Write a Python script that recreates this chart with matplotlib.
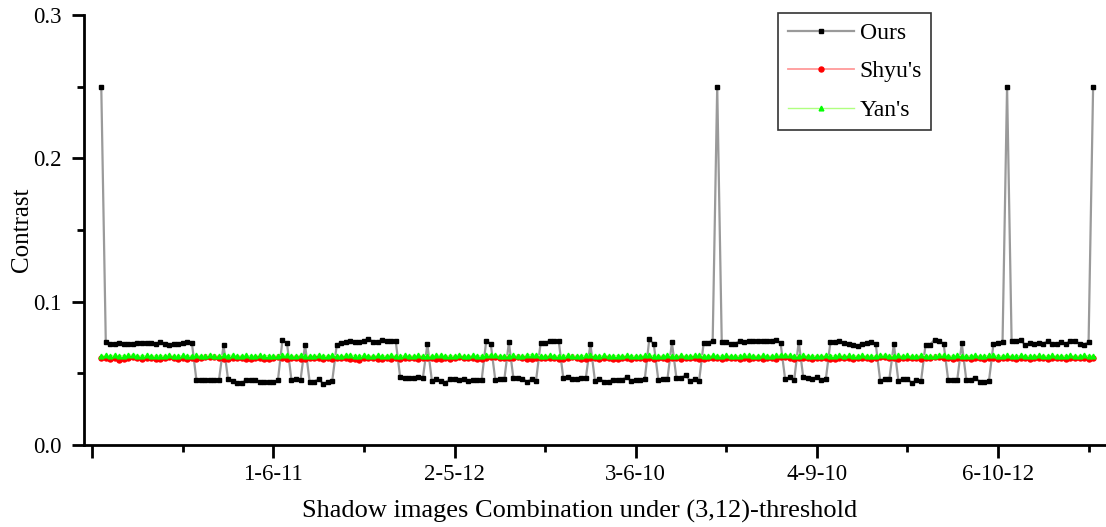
import numpy as np
import matplotlib
matplotlib.use("Agg")
import matplotlib.pyplot as plt
from matplotlib.ticker import FixedLocator

# ---------------- data ----------------
# Contrast of the "Ours" scheme for each of the 220 (3,12) shadow combinations
ours = [
    0.250,
    0.0716, 0.0702, 0.0702, 0.0714, 0.0705, 0.0705, 0.0702, 0.0712, 0.0712, 0.0712,
    0.0709, 0.0705, 0.0716, 0.0707, 0.0695, 0.0702, 0.0707, 0.0709, 0.0716, 0.0714,
    0.0456, 0.0456, 0.0456, 0.0456, 0.0456, 0.0456,
    0.0696,
    0.0458, 0.0444, 0.0430, 0.0435, 0.0451, 0.0454,
    0.0454, 0.0442, 0.0437, 0.0437, 0.0440, 0.0451,
    0.0730, 0.0712,
    0.0451, 0.0463, 0.0454,
    0.0700,
    0.0442, 0.0442, 0.0461, 0.0426, 0.0440, 0.0447,
    0.0700, 0.0714, 0.0719, 0.0728, 0.0719, 0.0719, 0.0728, 0.0742, 0.0719, 0.0719,
    0.0733, 0.0728, 0.0726, 0.0728,
    0.0472, 0.0468, 0.0465, 0.0465, 0.0477, 0.0465,
    0.0702,
    0.0449, 0.0458, 0.0447, 0.0435, 0.0461, 0.0458, 0.0454, 0.0463, 0.0449, 0.0451,
    0.0454, 0.0456,
    0.0728, 0.0705,
    0.0454, 0.0463, 0.0458,
    0.0716,
    0.0465, 0.0468, 0.0463, 0.0442, 0.0458, 0.0449,
    0.0709, 0.0709, 0.0728, 0.0723, 0.0728,
    0.0470, 0.0477, 0.0458, 0.0461, 0.0468, 0.0470,
    0.0705,
    0.0449, 0.0463, 0.0442, 0.0442, 0.0454, 0.0454,
    0.0454, 0.0477, 0.0444, 0.0454, 0.0454, 0.0458,
    0.0737, 0.0702,
    0.0454, 0.0458, 0.0458,
    0.0716,
    0.0465, 0.0465, 0.0489, 0.0447, 0.0458, 0.0447,
    0.0709, 0.0714, 0.0728,
    0.250,
    0.0721, 0.0716, 0.0707, 0.0705, 0.0728, 0.0721, 0.0723, 0.0726, 0.0728, 0.0728,
    0.0726, 0.0726, 0.0733, 0.0709,
    0.0458, 0.0472, 0.0454,
    0.0721,
    0.0472, 0.0468, 0.0463, 0.0472, 0.0454, 0.0463,
    0.0719, 0.0719, 0.0728, 0.0709, 0.0705, 0.0695, 0.0693, 0.0705, 0.0709, 0.0719,
    0.0705,
    0.0447, 0.0461, 0.0458,
    0.0705,
    0.0449, 0.0461, 0.0463, 0.0430, 0.0454, 0.0444,
    0.0700, 0.0700, 0.0735,
    0.0728, 0.0705,
    0.0454, 0.0454, 0.0454,
    0.0709,
    0.0454, 0.0454, 0.0470, 0.0440, 0.0442, 0.0447,
    0.0705, 0.0714, 0.0719,
    0.250,
    0.0728, 0.0728, 0.0733, 0.0695, 0.0709, 0.0705, 0.0709, 0.0705, 0.0728, 0.0705,
    0.0705, 0.0719, 0.0705, 0.0728, 0.0728, 0.0705, 0.0700, 0.0719,
    0.250,
]

# Shyu's and Yan's contrast (units of 1e-4)
shyu_e4 = [
    608, 604, 602, 606, 596, 597, 608, 616, 610, 602, 606, 608, 603, 600, 604, 611, 605, 602, 608, 602,
    606, 600, 608, 612, 616, 614, 608, 602, 601, 608, 606, 610, 603, 600, 604, 608, 600, 602, 607, 611,
    606, 602, 608, 604, 600, 599, 606, 609, 604, 600, 608, 603, 605, 608, 606, 602, 601, 596, 604, 608,
    604, 600, 602, 606, 601, 608, 598, 604, 610, 606, 602, 608, 604, 608, 600, 603, 607, 602, 608, 612,
    610, 605, 608, 602, 600, 606, 614, 616, 608, 606, 604, 608, 612, 608, 602, 600, 606, 604, 605, 607,
    608, 603, 600, 606, 611, 606, 602, 599, 605, 608, 600, 604, 606, 602, 603, 608, 604, 600, 606, 608,
    602, 606, 600, 608, 604, 602, 605, 608, 601, 604, 608, 606, 602, 600, 606, 608, 604, 602, 608, 606,
    604, 603, 606, 602, 608, 605, 600, 604, 608, 602, 614, 612, 606, 602, 608, 604, 606, 602, 610, 606,
    608, 602, 600, 606, 608, 604, 602, 608, 610, 604, 602, 608, 614, 616, 608, 604, 602, 606, 608, 604,
    608, 602, 606, 610, 612, 614, 608, 604, 600, 606, 610, 605, 602, 608, 606, 600, 604, 608, 602, 606,
    608, 604, 602, 606, 608, 600, 606, 604, 608, 602, 606, 608, 604, 600, 606, 608, 604, 606, 602, 604,
]
yan_e4 = [
    623, 625, 621, 627, 621, 623, 625, 629, 623, 621, 625, 623, 621, 624, 621, 625, 623, 619, 625, 623,
    621, 625, 623, 621, 627, 623, 622, 625, 623, 627, 621, 623, 625, 621, 623, 626, 622, 624, 621, 623,
    625, 627, 621, 623, 625, 621, 624, 623, 627, 623, 621, 625, 623, 621, 627, 629, 623, 621, 625, 623,
    622, 625, 621, 623, 627, 623, 621, 625, 623, 621, 625, 624, 623, 621, 625, 627, 623, 621, 623, 625,
    623, 621, 625, 623, 621, 627, 629, 625, 623, 621, 623, 625, 621, 623, 627, 631, 625, 621, 623, 625,
    623, 621, 624, 625, 623, 621, 623, 625, 627, 623, 621, 625, 623, 621, 624, 623, 625, 623, 621, 623,
    625, 627, 623, 621, 623, 625, 621, 623, 625, 623, 621, 627, 625, 623, 621, 625, 623, 621, 625, 623,
    621, 623, 625, 627, 623, 621, 625, 623, 621, 625, 627, 631, 625, 623, 621, 625, 623, 621, 624, 623,
    625, 623, 621, 627, 623, 625, 621, 623, 625, 623, 621, 623, 625, 627, 623, 621, 625, 623, 625, 621,
    623, 625, 623, 621, 623, 625, 627, 623, 621, 625, 623, 621, 623, 625, 621, 623, 625, 627, 623, 621,
    625, 623, 621, 625, 623, 621, 623, 625, 623, 621, 625, 623, 621, 623, 625, 623, 621, 625, 623, 623,
]

tick_major_pos = [-2, 38, 78, 118, 158, 198]
tick_major_labels = ["", "1-6-11", "2-5-12", "3-6-10", "4-9-10", "6-10-12"]
tick_minor_pos = [18, 58, 98, 138, 178, 218]
ytick_major = [0.0, 0.1, 0.2, 0.3]
ytick_labels = ["0.0", "0.1", "0.2", "0.3"]
ytick_minor = [0.05, 0.15, 0.25]

# ---------------- plot ----------------
plt.rcParams["font.family"] = ["Liberation Serif", "DejaVu Serif"]

x = np.arange(len(ours))
shyu = np.array(shyu_e4) / 1e4
yan = np.array(yan_e4) / 1e4

fig = plt.figure(figsize=(11.06, 5.27), dpi=100)
ax = fig.add_axes([0.076, 0.1556, 0.923, 0.816])

ax.plot(x, ours, color="#9a9a9a", lw=1.6, marker="s", ms=2.8,
        mfc="black", mec="black", label="Ours", zorder=3)
ax.plot(x, shyu, color="#ff9a9a", lw=1.3, marker="o", ms=3.6,
        mfc="red", mec="red", label="Shyu's", zorder=4)
ax.plot(x, yan, color="#b0ff80", lw=1.0, marker="^", ms=3.4,
        mfc="#00ff00", mec="#00ff00", label="Yan's", zorder=5)

ax.set_xlim(-3.8, 221.6)
ax.set_ylim(0, 0.3)

ax.xaxis.set_major_locator(FixedLocator(tick_major_pos))
ax.set_xticklabels(tick_major_labels)
ax.xaxis.set_minor_locator(FixedLocator(tick_minor_pos))
ax.yaxis.set_major_locator(FixedLocator(ytick_major))
ax.set_yticklabels(ytick_labels)
ax.yaxis.set_minor_locator(FixedLocator(ytick_minor))

ax.tick_params(axis="both", which="major", direction="out", length=9, width=2, labelsize=16.5)
ax.tick_params(axis="both", which="minor", direction="out", length=5, width=2)
ax.tick_params(axis="x", which="major", pad=5)
ax.tick_params(axis="y", which="major", pad=7)

for s in ["top", "right"]:
    ax.spines[s].set_visible(False)
for s in ["left", "bottom"]:
    ax.spines[s].set_linewidth(2)

ax.set_xlabel("Shadow images Combination under (3,12)-threshold", fontsize=19)
ax.xaxis.set_label_coords(0.485, -0.128)
ax.set_ylabel("Contrast", fontsize=18, labelpad=0)

leg = ax.legend(loc="upper right", bbox_to_anchor=(0.83, 1.005), fontsize=17,
                frameon=True, fancybox=False, edgecolor="black",
                handlelength=2.8, handletextpad=0.25, borderpad=0.4, labelspacing=0.72,
                markerscale=1.0, borderaxespad=0.0)
leg.get_frame().set_linewidth(1.2)

fig.savefig("out.png", dpi=100)
